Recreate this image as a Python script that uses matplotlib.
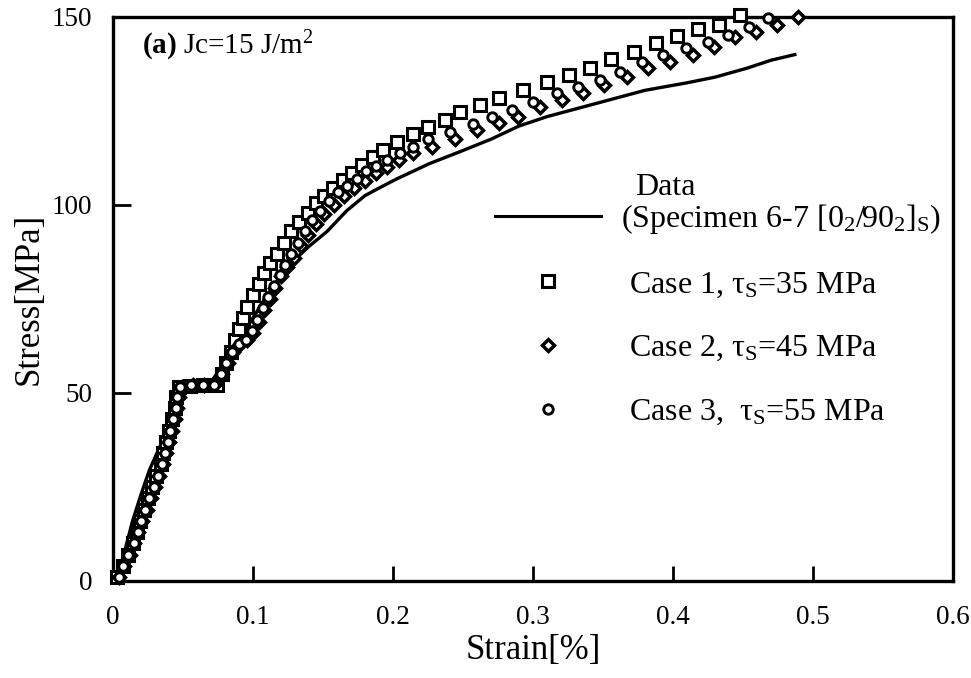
import matplotlib
matplotlib.use("Agg")
import matplotlib.pyplot as plt
from matplotlib.lines import Line2D

plt.rcParams['font.family'] = ['Liberation Serif', 'DejaVu Serif']
plt.rcParams['mathtext.fontset'] = 'custom'
plt.rcParams['mathtext.rm'] = 'Liberation Serif'
plt.rcParams['mathtext.it'] = 'Liberation Serif:italic'
plt.rcParams['mathtext.bf'] = 'Liberation Serif:bold'

# ---- data (strain in %, stress in MPa) ----
data_strain = [0.0, 0.007, 0.014, 0.020, 0.026, 0.035, 0.043, 0.046, 0.05, 0.06, 0.07,
               0.08, 0.09, 0.10, 0.11, 0.12, 0.13, 0.14, 0.153, 0.167, 0.18, 0.19,
               0.203, 0.226, 0.25, 0.27, 0.29, 0.31, 0.33, 0.36, 0.38, 0.41, 0.43,
               0.453, 0.47, 0.487]
data_stress = [0.0, 6, 16, 23, 29.5, 37, 44, 49, 50.5, 51.5, 53,
               58, 64, 70, 76, 81, 85.5, 89, 93, 98.5, 102.5, 104.5,
               107, 111, 114.5, 117.5, 121, 123.5, 125.5, 128.5, 130.5, 132.5, 134,
               136.4, 138.5, 140]

case1_strain = [0.003, 0.007, 0.011, 0.014, 0.017, 0.019, 0.022, 0.025, 0.028, 0.031,
                0.034, 0.036, 0.038, 0.040, 0.042, 0.044, 0.045, 0.047, 0.055, 0.064,
                0.074, 0.078, 0.081, 0.084, 0.087, 0.090, 0.093, 0.096, 0.100,
                0.104, 0.108, 0.112, 0.117, 0.122, 0.127, 0.133, 0.139, 0.145, 0.151,
                0.157, 0.164, 0.171, 0.178, 0.186, 0.193, 0.203, 0.214, 0.225, 0.237,
                0.248, 0.262, 0.276, 0.293, 0.310, 0.326, 0.341, 0.356, 0.372, 0.388,
                0.403, 0.418, 0.433, 0.448]
case1_stress = [1, 4, 7, 10, 13, 16, 19, 22, 25, 28,
                31, 34, 37, 40, 43, 46, 49, 51.5, 51.8, 52,
                52.2, 55, 58, 61, 64, 67, 70, 73, 76,
                79, 82, 84.5, 87, 90, 93, 95.5, 98, 100.5, 102.5,
                104.5, 106.6, 108.5, 110.6, 112.8, 114.6, 116.8, 119, 120.7, 122.6,
                124.7, 126.6, 128.5, 130.6, 132.7, 134.6, 136.4, 138.8, 140.7, 143,
                145, 146.8, 148, 150.5]

case2_strain = [0.004, 0.008, 0.012, 0.015, 0.018, 0.021, 0.024, 0.027, 0.030, 0.033,
                0.036, 0.038, 0.040, 0.042, 0.044, 0.046, 0.047, 0.049, 0.057, 0.065,
                0.073, 0.078, 0.082, 0.086, 0.091, 0.096, 0.100, 0.104, 0.108, 0.112,
                0.116, 0.120, 0.124, 0.129, 0.134, 0.139, 0.145, 0.151, 0.158, 0.165,
                0.172, 0.180, 0.188, 0.196, 0.204, 0.214, 0.228, 0.244, 0.260, 0.276,
                0.289, 0.305, 0.321, 0.336, 0.351, 0.367, 0.382, 0.398, 0.414, 0.429,
                0.444, 0.459, 0.474, 0.489]
case2_stress = [1, 4, 7, 10, 13, 16, 19, 22, 25, 28,
                31, 34, 37, 40, 43, 46, 49, 51.5, 52, 52,
                52.5, 55, 58, 61, 63, 64, 66, 69, 72, 75,
                78, 81, 83.5, 86, 89, 92, 95, 97.5, 100, 102.5,
                104.5, 106.5, 108.5, 110, 112, 113.8, 115.5, 117.5, 120, 121.8,
                123.4, 126, 128, 129.8, 132, 134, 136.4, 138, 140, 142,
                144.7, 146, 147.9, 150]

case3_strain = [0.004, 0.007, 0.011, 0.015, 0.018, 0.020, 0.023, 0.026, 0.029, 0.032,
                0.035, 0.037, 0.039, 0.041, 0.043, 0.045, 0.046, 0.048, 0.056, 0.064,
                0.072, 0.077, 0.081, 0.085, 0.090, 0.095, 0.099, 0.103, 0.107, 0.111,
                0.115, 0.119, 0.123, 0.127, 0.132, 0.137, 0.142, 0.148, 0.154, 0.161,
                0.167, 0.174, 0.181, 0.188, 0.196, 0.205, 0.214, 0.225, 0.241, 0.257,
                0.271, 0.285, 0.300, 0.317, 0.332, 0.348, 0.362, 0.378, 0.393, 0.409,
                0.425, 0.439, 0.454, 0.468]
case3_stress = [1, 4, 7, 10, 13, 16, 19, 22, 25, 28,
                31, 34, 37, 40, 43, 46, 49, 51.5, 52, 52,
                52, 55, 58, 61, 63, 64, 66.5, 69.5, 72.5, 75.5,
                78.5, 81.5, 84, 87, 90, 93, 96, 98.5, 101, 103.5,
                105, 107, 109, 110.5, 112, 113.8, 115.5, 117.5, 119.5, 121.5,
                123.4, 125.3, 127.5, 129.8, 131.3, 133.2, 135.4, 138, 139.9, 141.8,
                143.4, 145.2, 147.3, 149.7]

x_ticks = [0, 0.1, 0.2, 0.3, 0.4, 0.5, 0.6]
x_ticklabels = ['0', '0.1', '0.2', '0.3', '0.4', '0.5', '0.6']
y_ticks = [0, 50, 100, 150]
y_ticklabels = ['0', '50', '100', '150']

label_data = 'Data'
label_spec = '(Specimen 6-7 [0$_2$/90$_2$]$_\\mathrm{S}$)'
label_c1 = ' Case 1, τ$_\\mathrm{S}$=35 MPa'
label_c2 = ' Case 2, τ$_\\mathrm{S}$=45 MPa'
label_c3 = ' Case 3,  τ$_\\mathrm{S}$=55 MPa'

# ---- figure ----
fig = plt.figure(figsize=(9.71, 6.78), dpi=100)
ax = fig.add_axes([113 / 971, 1 - 581 / 678, 840 / 971, 564 / 678])

ax.plot(data_strain, data_stress, color='black', lw=2.4, zorder=2)
sq = ax.plot(case1_strain, case1_stress, ls='none', marker='s', ms=8.5, mew=2.2,
             mec='black', mfc='white', clip_on=False, zorder=3)[0]
dm = ax.plot(case2_strain, case2_stress, ls='none', marker='D', ms=6.2, mew=2.5,
             mec='black', mfc='white', clip_on=False, zorder=4)[0]
ci = ax.plot(case3_strain, case3_stress, ls='none', marker='o', ms=6.8, mew=2.1,
             mec='black', mfc='white', clip_on=False, zorder=5)[0]

ax.set_xlim(0, 0.6)
ax.set_ylim(0, 150)
ax.set_xticks(x_ticks)
ax.set_xticklabels(x_ticklabels)
ax.set_yticks(y_ticks)
ax.set_yticklabels(y_ticklabels)
ax.tick_params(direction='in', length=11, width=2, labelsize=19.5,
               top=False, right=False)
ax.tick_params(axis='x', pad=17)
ax.tick_params(axis='y', length=13, pad=15)
for s in ax.spines.values():
    s.set_linewidth(2.4)

ax.set_xlabel('Strain[%]', fontsize=25, labelpad=3)
ax.set_ylabel('Stress[MPa]', fontsize=25, labelpad=4)

ax.text(0.034, 0.948, r'$\mathbf{(a)}$ Jc=15 J/m$^2$', transform=ax.transAxes,
        fontsize=21, va='center', ha='left')

ax.text(0.621, 0.698, label_data, transform=ax.transAxes, fontsize=23,
        va='center', ha='left')

h_line = Line2D([], [], color='black', lw=2.2)
leg = ax.legend([h_line, sq, dm, ci], [label_spec, label_c1, label_c2, label_c3],
                loc='upper left', bbox_to_anchor=(0.455, 0.672), frameon=False,
                fontsize=23, handlelength=3.3, handletextpad=0.65,
                labelspacing=1.07, borderpad=0, borderaxespad=0, numpoints=1)

fig.savefig('out.png', dpi=100)
